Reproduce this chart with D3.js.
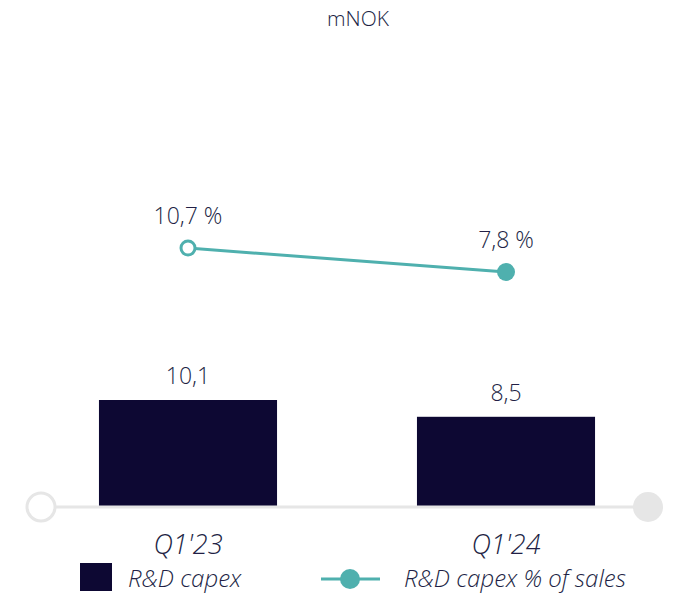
<!DOCTYPE html>
<html>
<head>
<meta charset="utf-8">
<script src="https://cdn.jsdelivr.net/npm/d3@7"></script>
<style>
  body { margin: 0; background: #fff; }
  text { font-family: "Open Sans", sans-serif; fill: #221f45; }
</style>
</head>
<body>
<svg id="chart" width="677" height="600"></svg>
<script>
var categories = ["Q1'23", "Q1'24"];
var capex = [10.1, 8.5];
var capexLabels = ["10,1", "8,5"];
var pctSales = [10.7, 7.8];
var pctLabels = ["10,7 %", "7,8 %"];

var svg = d3.select("#chart");
var baseY = 506;

var x = d3.scaleBand().domain(categories).range([29, 665]).paddingInner(0.44).paddingOuter(0.22);
var yBar = d3.scaleLinear().domain([0, 10.1]).range([baseY, 400]);
var yLine = d3.scaleLinear().domain([7.8, 10.7]).range([272, 248]);

svg.append("text").attr("x", 358).attr("y", 26).attr("text-anchor", "middle")
  .style("font-size", "21px").style("font-weight", 300).text("mNOK");

// bars
svg.selectAll("rect.bar").data(capex).enter().append("rect")
  .attr("class", "bar")
  .attr("x", function (d, i) { return x(categories[i]); })
  .attr("width", x.bandwidth())
  .attr("y", function (d) { return yBar(d); })
  .attr("height", function (d) { return baseY - yBar(d); })
  .attr("fill", "#0d0833");

svg.selectAll("text.barlab").data(capex).enter().append("text")
  .attr("class", "barlab")
  .attr("x", function (d, i) { return x(categories[i]) + x.bandwidth() / 2; })
  .attr("y", function (d) { return yBar(d) - 16; })
  .attr("text-anchor", "middle").style("font-size", "23px").style("font-weight", 300)
  .text(function (d, i) { return capexLabels[i]; });

// baseline with end circles
svg.append("line").attr("x1", 56).attr("x2", 634).attr("y1", baseY + 1).attr("y2", baseY + 1)
  .attr("stroke", "#e6e6e6").attr("stroke-width", 3);
svg.append("circle").attr("cx", 41).attr("cy", baseY + 1).attr("r", 14)
  .attr("fill", "#fff").attr("stroke", "#e6e6e6").attr("stroke-width", 3);
svg.append("circle").attr("cx", 648).attr("cy", baseY + 1).attr("r", 15).attr("fill", "#e6e6e6");

// category labels
svg.selectAll("text.cat").data(categories).enter().append("text")
  .attr("class", "cat")
  .attr("x", function (d) { return x(d) + x.bandwidth() / 2; })
  .attr("y", 554)
  .attr("text-anchor", "middle").style("font-size", "27px").style("font-style", "italic").style("font-weight", 300)
  .text(function (d) { return d; });

// line
var cx = function (d, i) { return x(categories[i]) + x.bandwidth() / 2; };
var line = d3.line().x(cx).y(function (d) { return yLine(d); });
svg.append("path").datum(pctSales).attr("d", line)
  .attr("fill", "none").attr("stroke", "#4fb0ae").attr("stroke-width", 3);
svg.selectAll("circle.pt").data(pctSales).enter().append("circle")
  .attr("class", "pt")
  .attr("cx", cx).attr("cy", function (d) { return yLine(d); })
  .attr("r", function (d, i) { return i === 0 ? 7 : 9; })
  .attr("fill", function (d, i) { return i === 0 ? "#fff" : "#4fb0ae"; })
  .attr("stroke", "#4fb0ae").attr("stroke-width", function (d, i) { return i === 0 ? 3 : 0; });
svg.selectAll("text.ptlab").data(pctSales).enter().append("text")
  .attr("class", "ptlab")
  .attr("x", cx).attr("y", function (d) { return yLine(d) - 24; })
  .attr("text-anchor", "middle").style("font-size", "23px").style("font-weight", 300)
  .text(function (d, i) { return pctLabels[i]; });

// legend
svg.append("rect").attr("x", 80).attr("y", 563).attr("width", 32).attr("height", 28).attr("fill", "#0d0833");
svg.append("text").attr("x", 128).attr("y", 587).style("font-size", "24px").style("font-style", "italic")
  .style("font-weight", 300).text("R&D capex");
svg.append("line").attr("x1", 321).attr("x2", 380).attr("y1", 579).attr("y2", 579)
  .attr("stroke", "#4fb0ae").attr("stroke-width", 3);
svg.append("circle").attr("cx", 350).attr("cy", 579).attr("r", 10).attr("fill", "#4fb0ae");
svg.append("text").attr("x", 404).attr("y", 587).style("font-size", "24px").style("font-style", "italic")
  .style("font-weight", 300).text("R&D capex % of sales");
</script>
</body>
</html>
